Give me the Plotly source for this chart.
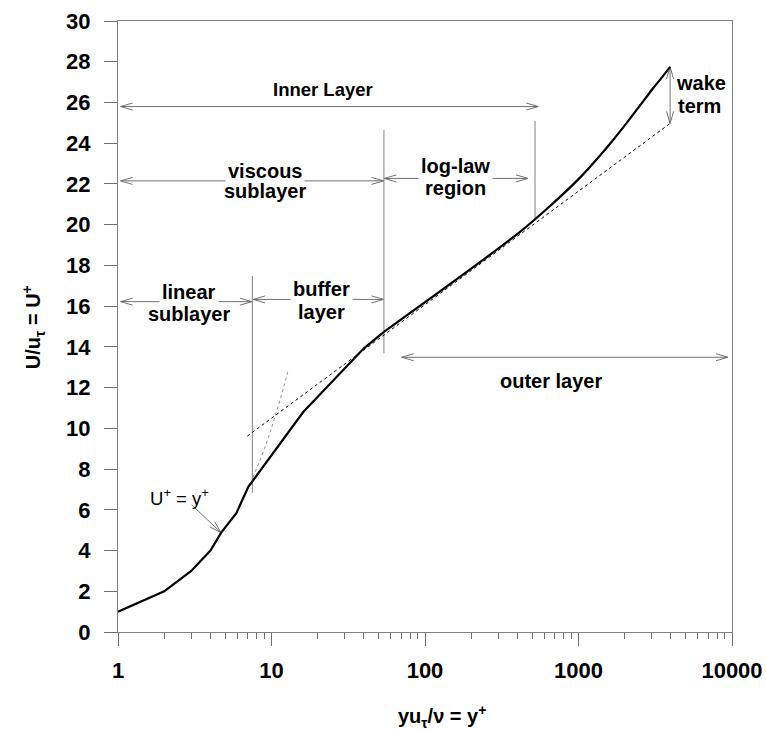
import numpy as np
import plotly.graph_objects as go

# ---------------- data ----------------
yplus = [1, 2, 3, 4, 4.7, 5.9, 7.06, 7.6, 16.1, 40, 54, 416, 685, 1023, 1380, 1686, 2061, 2516, 3070, 3484, 3950]
uplus = [1.0, 2.0, 3.0, 4.0, 4.88, 5.83, 7.13, 7.46, 10.8, 13.93, 14.74, 19.65, 21.06, 22.31, 23.39, 24.17, 25.0, 25.85, 26.71, 27.22, 27.75]
smooth_from = 10  # index from which the profile is drawn as a smooth curve

loglaw_x = [6.96, 3950]
loglaw_u = [9.62, 24.97]

linear_x = [7.6, 8, 9, 10, 11, 12, 12.9]
linear_u = [7.6, 8, 9, 10, 11, 12, 12.9]

divider_x = [7.5, 54, 521]
divider_lo = [6.84, 13.68, 20.3]
divider_hi = [17.48, 24.64, 25.1]

# horizontal double arrows: (x_start, x_end, y)
harrow_x0 = [1.04, 1.04, 54.3, 1.04, 7.6, 70.5]
harrow_x1 = [547, 53.7, 469, 7.45, 53.7, 9420]
harrow_y = [25.8, 22.15, 22.27, 16.22, 16.33, 13.49]

# vertical double arrow (wake term)
wake_x = 3950
wake_lo, wake_hi = 24.97, 27.75

# single arrow for U+ = y+
uy_tail = (3.02, 6.24)
uy_tip = (4.69, 4.88)

x_tickvals = [1, 10, 100, 1000, 10000]
x_ticktext = ["1", "10", "100", "1000", "10000"]
x_minor = [m * 10 ** d for d in range(4) for m in range(2, 10)]

# labels: text, x, y, size, bold, white background
labels = [
    ("Inner Layer", 21.7, 26.66, 18.5, True, False),
    ("viscous", 9.07, 22.65, 20, True, True),
    ("sublayer", 9.1, 21.67, 20, True, False),
    ("linear", 2.88, 16.71, 20, True, True),
    ("sublayer", 2.88, 15.61, 20, True, False),
    ("buffer", 21.2, 16.84, 20, True, True),
    ("layer", 21.2, 15.70, 20, True, False),
    ("log-law", 159, 22.87, 20, True, True),
    ("region", 158, 21.78, 20, True, False),
    ("wake", 6270, 26.94, 20, True, False),
    ("term", 6180, 25.84, 20, True, False),
    ("outer layer", 665, 12.34, 20, True, False),
    ("U<sup>+</sup> = y<sup>+</sup>", 2.53, 6.63, 18.5, False, False),
]

# ---------------- layout geometry ----------------
W, H = 766, 731
ML, MR, MT, MB = 118, 34, 21, 99
XR = (0.0, 4.0)
YR = (0.0, 30.0)
PW, PH = W - ML - MR, H - MT - MB
FONT = "Liberation Sans, Arial, sans-serif"
GRAY = "#808080"


def to_px(x, u):
    lx = np.log10(x)
    return (ML + (lx - XR[0]) / (XR[1] - XR[0]) * PW,
            MT + (YR[1] - u) / (YR[1] - YR[0]) * PH)


def to_data(px, py):
    lx = XR[0] + (px - ML) / PW * (XR[1] - XR[0])
    u = YR[1] - (py - MT) / PH * (YR[1] - YR[0])
    return 10 ** lx, u


def head(tip, tail, L=12, Wd=3.5):
    tx, ty = to_px(*tip)
    sx, sy = to_px(*tail)
    d = np.array([tx - sx, ty - sy])
    d = d / np.linalg.norm(d)
    n = np.array([-d[1], d[0]])
    p1 = to_data(tx - L * d[0] + Wd * n[0], ty - L * d[1] + Wd * n[1])
    p2 = to_data(tx - L * d[0] - Wd * n[0], ty - L * d[1] - Wd * n[1])
    return [p1[0], tip[0], p2[0], None], [p1[1], tip[1], p2[1], None]


fig = go.Figure()

# dividers
vx, vy = [], []
for x, lo, hi in zip(divider_x, divider_lo, divider_hi):
    vx += [x, x, None]
    vy += [lo, hi, None]
fig.add_trace(go.Scatter(x=vx, y=vy, mode="lines", line=dict(color=GRAY, width=1), hoverinfo="skip"))

# arrow shafts and heads
sx_, sy_, hx, hy = [], [], [], []
for x0, x1, y in zip(harrow_x0, harrow_x1, harrow_y):
    sx_ += [x0, x1, None]
    sy_ += [y, y, None]
    a, b = head((x1, y), (x0, y)); hx += a; hy += b
    a, b = head((x0, y), (x1, y)); hx += a; hy += b
sx_ += [wake_x, wake_x, None]
sy_ += [wake_lo, wake_hi, None]
a, b = head((wake_x, wake_hi), (wake_x, wake_lo)); hx += a; hy += b
a, b = head((wake_x, wake_lo), (wake_x, wake_hi)); hx += a; hy += b
sx_ += [uy_tail[0], uy_tip[0], None]
sy_ += [uy_tail[1], uy_tip[1], None]
a, b = head(uy_tip, uy_tail); hx += a; hy += b
fig.add_trace(go.Scatter(x=sx_, y=sy_, mode="lines", line=dict(color="#707070", width=1), hoverinfo="skip"))
fig.add_trace(go.Scatter(x=hx, y=hy, mode="lines", line=dict(color="#707070", width=1), hoverinfo="skip"))

# dotted reference lines
fig.add_trace(go.Scatter(x=linear_x, y=linear_u, mode="lines",
                         line=dict(color="#909090", width=1, dash="dot"), hoverinfo="skip"))
fig.add_trace(go.Scatter(x=loglaw_x, y=loglaw_u, mode="lines",
                         line=dict(color="black", width=1, dash="dot"), hoverinfo="skip"))

# profile: polyline near the wall, smooth curve further out
fig.add_trace(go.Scatter(x=yplus[:smooth_from + 1], y=uplus[:smooth_from + 1], mode="lines",
                         line=dict(color="black", width=2.2), hoverinfo="skip"))
fig.add_trace(go.Scatter(x=yplus[smooth_from:], y=uplus[smooth_from:], mode="lines",
                         line=dict(color="black", width=2.2, shape="spline", smoothing=1.0),
                         hoverinfo="skip"))

annotations = []
for text, x, y, size, bold, bg in labels:
    annotations.append(dict(
        x=np.log10(x), y=y, xref="x", yref="y", text=text, showarrow=False,
        xanchor="center", yanchor="middle",
        font=dict(family=FONT, size=size, color="black", weight="bold" if bold else "normal"),
        bgcolor="white" if bg else None, borderpad=2,
    ))

annotations.append(dict(
    x=-0.1384, y=0.499, xref="paper", yref="paper", textangle=-90,
    text="U/u<sub>τ</sub> = U<sup>+</sup>", showarrow=False,
    xanchor="center", yanchor="middle",
    font=dict(family=FONT, size=20, color="black", weight="bold")))
annotations.append(dict(
    x=0.528, y=-0.139, xref="paper", yref="paper",
    text="yu<sub>τ</sub>/ν = y<sup>+</sup>", showarrow=False,
    xanchor="center", yanchor="middle",
    font=dict(family=FONT, size=20, color="black", weight="bold")))

fig.update_layout(
    width=W, height=H,
    margin=dict(l=ML, r=MR, t=MT, b=MB, pad=0, autoexpand=False),
    paper_bgcolor="white", plot_bgcolor="white",
    showlegend=False,
    font=dict(family=FONT, color="black"),
    annotations=annotations,
    xaxis=dict(
        type="log", range=list(XR), tickmode="array", tickvals=x_tickvals, ticktext=x_ticktext,
        ticks="outside", ticklen=13, tickwidth=1, tickcolor="#6e6e6e",
        showline=True, linecolor=GRAY, linewidth=1, mirror=True,
        showgrid=False, zeroline=False, automargin=False,
        tickfont=dict(family=FONT, size=22, color="black", weight="bold"),
        ticklabelstandoff=6,
        minor=dict(tickmode="array", tickvals=x_minor, ticks="outside", ticklen=6,
                   tickwidth=1, tickcolor="#6e6e6e", showgrid=False),
    ),
    yaxis=dict(
        range=list(YR), tick0=0, dtick=2,
        ticks="outside", ticklen=13, tickwidth=1, tickcolor="#6e6e6e",
        showline=True, linecolor=GRAY, linewidth=1, mirror=True,
        showgrid=False, zeroline=False, automargin=False,
        tickfont=dict(family=FONT, size=22, color="black", weight="bold"),
        ticklabelstandoff=9,
    ),
)

fig.write_html(
    "out.html",
    config={"displayModeBar": False},
    post_script="document.body.style.margin='0px';document.body.style.overflow='hidden';",
)
